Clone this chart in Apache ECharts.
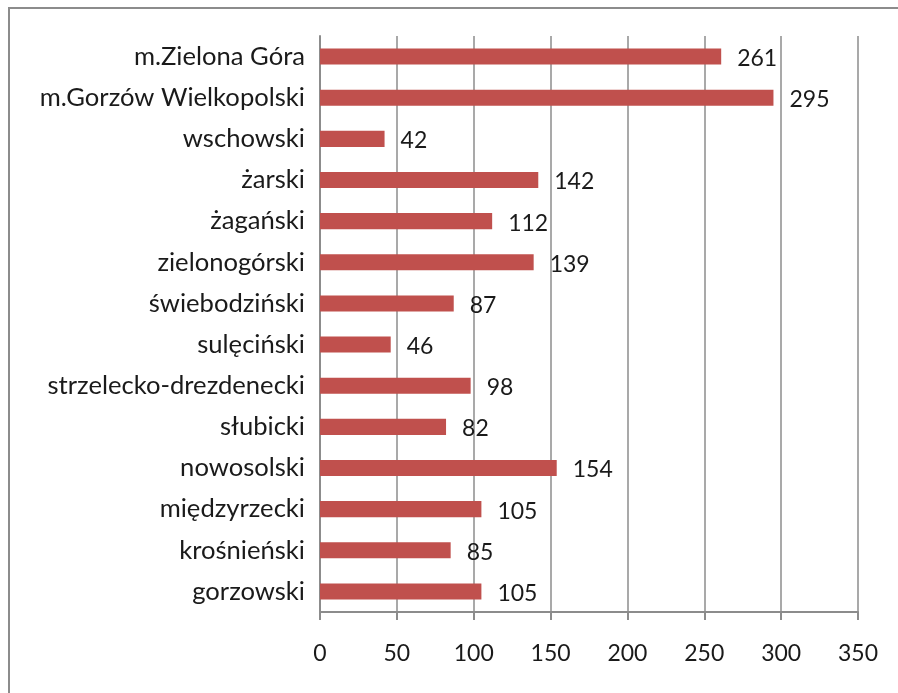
<!DOCTYPE html>
<html>
<head>
<meta charset="utf-8">
<script src="https://cdn.jsdelivr.net/npm/echarts@6/dist/echarts.min.js"></script>
<style>
	html, body { margin: 0; padding: 0; background: #fff; }
	#chart { width: 898px; height: 693px; }
</style>
</head>
<body>
<div id="chart"></div>
<script>
	// categories listed bottom to top (category axis runs upward)
	let powiaty = ['gorzowski', 'krośnieński', 'międzyrzecki', 'nowosolski', 'słubicki',
		'strzelecko-drezdenecki', 'sulęciński', 'świebodziński', 'zielonogórski',
		'żagański', 'żarski', 'wschowski', 'm.Gorzów Wielkopolski', 'm.Zielona Góra'];
	let wartosci = [105, 85, 105, 154, 82, 98, 46, 87, 139, 112, 142, 42, 295, 261];

	let chart = echarts.init(document.getElementById('chart'));
	let font = 'Lato, "Open Sans", sans-serif';

	chart.setOption({
		animation: false,
		textStyle: { fontFamily: font },
		graphic: [{
			type: 'rect',
			shape: { x: 9, y: 8, width: 900, height: 700 },
			style: { fill: 'none', stroke: '#8c8c8c', lineWidth: 2 }
		}],
		grid: { left: 320, right: 40, top: 36, bottom: 81 },
		xAxis: {
			type: 'value',
			min: 0,
			max: 350,
			interval: 50,
			axisLine: { show: true, lineStyle: { color: '#8c8c8c', width: 2 } },
			axisTick: { show: true, length: 8, lineStyle: { color: '#8c8c8c', width: 2 } },
			splitLine: { show: true, lineStyle: { color: '#8c8c8c', width: 1.5 } },
			axisLabel: { color: '#1a1a1a', fontSize: 23, margin: 30, fontFamily: font }
		},
		yAxis: {
			type: 'category',
			data: powiaty,
			axisLine: { show: true, lineStyle: { color: '#8c8c8c', width: 2 } },
			axisTick: { show: false },
			axisLabel: { color: '#1a1a1a', fontSize: 25.6, margin: 15, fontFamily: font }
		},
		series: [{
			type: 'bar',
			data: wartosci,
			barWidth: '39%',
			itemStyle: { color: '#c0504d' },
			label: {
				show: true,
				position: 'right',
				distance: 16,
				offset: [0, 2],
				color: '#1a1a1a',
				fontSize: 23,
				fontFamily: font
			}
		}]
	});
</script>
</body>
</html>
